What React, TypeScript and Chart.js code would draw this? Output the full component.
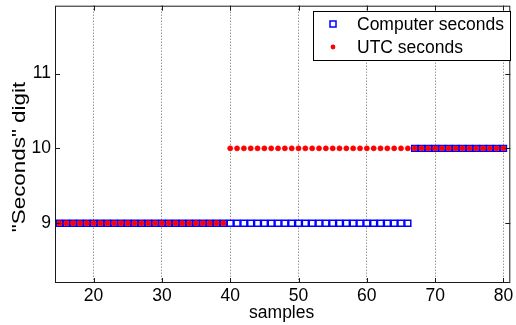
import React, { useEffect, useRef } from "react";
import { Chart, registerables } from "chart.js";

Chart.register(...registerables);

const samples = [
  15, 16, 17, 18, 19, 20, 21, 22, 23, 24, 25, 26, 27, 28, 29, 30, 31, 32, 33, 34, 35, 36,
  37, 38, 39, 40, 41, 42, 43, 44, 45, 46, 47, 48, 49, 50, 51, 52, 53, 54, 55, 56, 57, 58,
  59, 60, 61, 62, 63, 64, 65, 66, 67, 68, 69, 70, 71, 72, 73, 74, 75, 76, 77, 78, 79, 80,
];

const computerSeconds = [
  9, 9, 9, 9, 9, 9, 9, 9, 9, 9, 9, 9, 9, 9, 9, 9, 9, 9, 9, 9, 9, 9,
  9, 9, 9, 9, 9, 9, 9, 9, 9, 9, 9, 9, 9, 9, 9, 9, 9, 9, 9, 9, 9, 9,
  9, 9, 9, 9, 9, 9, 9, 9, 10, 10, 10, 10, 10, 10, 10, 10, 10, 10, 10, 10, 10, 10,
];

const utcSeconds = [
  9, 9, 9, 9, 9, 9, 9, 9, 9, 9, 9, 9, 9, 9, 9, 9, 9, 9, 9, 9, 9, 9,
  9, 9, 9, 10, 10, 10, 10, 10, 10, 10, 10, 10, 10, 10, 10, 10, 10, 10, 10, 10, 10, 10,
  10, 10, 10, 10, 10, 10, 10, 10, 10, 10, 10, 10, 10, 10, 10, 10, 10, 10, 10, 10, 10, 10,
];

const xTickValues = [20, 30, 40, 50, 60, 70, 80];
const yTickValues = [9, 10, 11];
const seriesLabels = ["Computer seconds", "UTC seconds"];
const xTitle = "samples";
const yTitle = '"Seconds" digit';

const FONT = "'Liberation Sans', Arial, Helvetica, sans-serif";
const FONT_SIZE = 17.5;

const zeroPadding = (scale: any) => {
  scale.paddingTop = 0;
  scale.paddingBottom = 0;
  scale.paddingLeft = 0;
  scale.paddingRight = 0;
};

export default function App() {
  const canvasRef = useRef<HTMLCanvasElement>(null);

  useEffect(() => {
    document.body.style.margin = "0";
    const canvas = canvasRef.current;
    if (!canvas) return;

    const decor = {
      id: "decor",
      afterDraw(chart: any) {
        const ctx = chart.ctx as CanvasRenderingContext2D;
        const { left, right, top, bottom } = chart.chartArea;
        const xs = chart.scales.x;
        const ys = chart.scales.y;
        ctx.save();
        // frame
        ctx.strokeStyle = "#1a1a1a";
        ctx.lineWidth = 1;
        ctx.strokeRect(left + 0.5, top + 0.5, right - left - 1, bottom - top - 1);
        // inward ticks
        const tl = 5;
        ctx.beginPath();
        xTickValues.forEach((v) => {
          const px = Math.round(xs.getPixelForValue(v)) + 0.5;
          ctx.moveTo(px, bottom);
          ctx.lineTo(px, bottom - tl);
          ctx.moveTo(px, top);
          ctx.lineTo(px, top + tl);
        });
        yTickValues.forEach((v) => {
          const py = Math.round(ys.getPixelForValue(v)) + 0.5;
          ctx.moveTo(left, py);
          ctx.lineTo(left + tl, py);
          ctx.moveTo(right, py);
          ctx.lineTo(right - tl, py);
        });
        ctx.stroke();

        // axis titles
        ctx.fillStyle = "#000";
        ctx.font = `${FONT_SIZE}px ${FONT}`;
        ctx.textAlign = "center";
        ctx.textBaseline = "middle";
        ctx.fillText(xTitle, (left + right) / 2 - 1, 313);

        ctx.save();
        ctx.translate(20, 157);
        ctx.rotate(-Math.PI / 2);
        ctx.scale(1.28, 1);
        ctx.fillText(yTitle, 0, 0);
        ctx.restore();

        // legend
        const bx = 313.5, by = 11.5, bw = 197, bh = 49;
        ctx.fillStyle = "#fff";
        ctx.fillRect(bx, by, bw, bh);
        ctx.strokeStyle = "#000";
        ctx.lineWidth = 1;
        ctx.strokeRect(bx, by, bw, bh);

        const mx = 333;
        const rows = [24, 47];
        // square marker
        ctx.strokeStyle = "#0000ff";
        ctx.lineWidth = 1.5;
        ctx.fillStyle = "#fff";
        ctx.beginPath();
        ctx.rect(mx - 3, rows[0] - 3, 6, 6);
        ctx.fill();
        ctx.stroke();
        // dot marker
        ctx.fillStyle = "#ff0000";
        ctx.beginPath();
        ctx.arc(mx, rows[1], 2.4, 0, Math.PI * 2);
        ctx.fill();

        ctx.fillStyle = "#000";
        ctx.textAlign = "left";
        ctx.textBaseline = "middle";
        ctx.font = `${FONT_SIZE}px ${FONT}`;
        seriesLabels.forEach((label, i) => {
          ctx.fillText(label, 357, rows[i] + 1);
        });
        ctx.restore();
      },
    };

    const chart = new Chart(canvas, {
      type: "scatter",
      data: {
        datasets: [
          {
            label: seriesLabels[0],
            data: samples.map((x, i) => ({ x, y: computerSeconds[i] })),
            pointStyle: "rect",
            pointRadius: 4.2,
            pointHoverRadius: 4.2,
            borderColor: "#0000ff",
            backgroundColor: "#ffffff",
            borderWidth: 1.5,
            showLine: false,
            order: 2,
          },
          {
            label: seriesLabels[1],
            data: samples.map((x, i) => ({ x, y: utcSeconds[i] })),
            pointStyle: "circle",
            pointRadius: 2.6,
            pointHoverRadius: 2.6,
            borderColor: "#ff0000",
            backgroundColor: "#ff0000",
            borderWidth: 0.5,
            showLine: false,
            order: 1,
          },
        ],
      },
      options: {
        animation: false,
        responsive: false,
        devicePixelRatio: 1,
        layout: { padding: { top: 5, right: 1, left: 0, bottom: 0 } },
        plugins: {
          legend: { display: false },
          tooltip: { enabled: false },
        },
        scales: {
          x: {
            type: "linear",
            min: 14.35,
            max: 81,
            afterBuildTicks: (scale: any) => {
              scale.ticks = xTickValues.map((v) => ({ value: v }));
            },
            afterFit: (scale: any) => {
              scale.height = 42;
              zeroPadding(scale);
            },
            grid: {
              display: true,
              drawTicks: false,
              color: "rgba(0,0,0,0.6)",
              lineWidth: 1,
            },
            border: { display: false, dash: [1, 2] },
            ticks: {
              padding: 3,
              color: "#000",
              font: { family: FONT, size: FONT_SIZE },
              maxRotation: 0,
            },
          },
          y: {
            type: "linear",
            min: 8.2,
            max: 11.907,
            afterBuildTicks: (scale: any) => {
              scale.ticks = yTickValues.map((v) => ({ value: v }));
            },
            afterFit: (scale: any) => {
              scale.width = 55;
              zeroPadding(scale);
            },
            grid: { display: false, drawTicks: false },
            border: { display: false },
            ticks: {
              padding: 4,
              color: "#000",
              font: { family: FONT, size: FONT_SIZE },
            },
          },
        },
      },
      plugins: [decor],
    });

    return () => chart.destroy();
  }, []);

  return (
    <div style={{ width: 516, height: 325 }}>
      <canvas ref={canvasRef} width={516} height={325} />
    </div>
  );
}
